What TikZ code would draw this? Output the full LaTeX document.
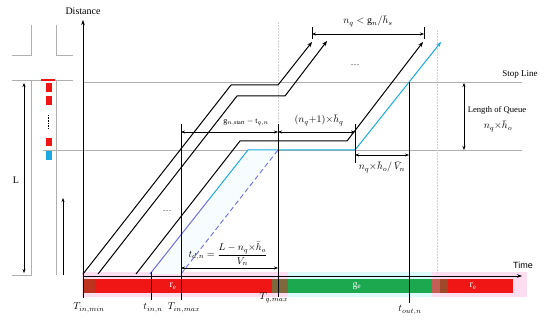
\documentclass[tikz,border=0pt]{standalone}
\usepackage{fontspec}
\setmainfont{Liberation Serif}
\setsansfont{Liberation Sans}
\usetikzlibrary{arrows.meta}
\definecolor{cRed}{RGB}{240,22,22}
\definecolor{cDRed}{RGB}{190,50,32}
\definecolor{cOlive}{RGB}{125,105,60}
\definecolor{cGreen}{RGB}{28,168,78}
\definecolor{cSalm}{RGB}{195,95,85}
\definecolor{cBrown}{RGB}{160,72,42}
\definecolor{cPink}{RGB}{253,222,240}
\definecolor{cCyanBg}{RGB}{220,250,250}
\definecolor{cBlue}{RGB}{28,170,225}
\definecolor{cViolet}{RGB}{110,110,230}
\definecolor{cRoad}{RGB}{175,175,175}
\begin{document}
\begin{tikzpicture}[x=1pt,y=-1pt,
  road/.style={draw=cRoad,line width=0.8pt},
  refl/.style={draw=cRoad,line width=0.9pt},
  faint/.style={draw=gray!35,line width=0.5pt,densely dotted},
  traj/.style={line width=1pt,black},
  tip/.style={-{Stealth[length=5pt,width=4pt]}},
  dimarr/.style={{Stealth[length=4pt,width=3pt]}-{Stealth[length=4pt,width=3pt]},line width=0.5pt},
  tickl/.style={line width=0.6pt},
  lbl/.style={inner sep=0.5pt,font=\fontsize{9}{10}\selectfont},
  mlbl/.style={inner sep=0.5pt,font=\fontsize{10}{11}\selectfont},
  bartxt/.style={inner sep=0pt,text=white,font=\fontsize{10}{11}\selectfont},
  dots/.style={inner sep=0pt,font=\fontsize{6}{6}\selectfont}]
\useasboundingbox (0,0) rectangle (550,321);

% ---------- signal bar ----------
\fill[cPink] (82,272) rectangle (527,297);
\fill[cCyanBg] (288,272) rectangle (432,297);
\fill[cDRed] (83,279) rectangle (95,293);
\fill[cRed] (95,279) rectangle (272,293);
\fill[cOlive] (272,279) rectangle (288,293);
\fill[cGreen] (288,279) rectangle (432,293);
\fill[cSalm] (432,279) rectangle (440,293);
\fill[cBrown] (440,279) rectangle (448,293);
\fill[cRed] (448,279) rectangle (513,293);
\node[bartxt] (re1) at (173,286) {$\mathrm{r_e}$};
\node[bartxt] (ge) at (357,286) {$\mathrm{g_e}$};
\node[bartxt] (re2) at (473,286) {$\mathrm{r_e}$};

% ---------- road sketch ----------
\draw[road] (12,55) -- (31,55) -- (31,25);
\draw[road] (73,55) -- (56,55) -- (56,25);
\draw[road] (12,80) -- (73,80);
\draw[road] (31,80) -- (31,275) -- (12,275);
\draw[road] (56,80) -- (56,275);
\fill[cRed] (41,79) rectangle (55,81.5);
\fill[cRed] (46,83) rectangle (52,92);
\fill[cRed] (46,96) rectangle (52,105);
\draw[densely dotted,line width=0.6pt] (48.5,115) -- (48.5,128);
\fill[cRed] (46,138) rectangle (52,146);
\fill[cBlue] (46,151) rectangle (52,160);
\coordinate (Ltop) at (24,83);
\coordinate (Lbot) at (24,273);
\draw[{Stealth[length=4pt,width=3pt]}-{Stealth[length=4pt,width=3pt]},line width=0.5pt] (Ltop) -- (Lbot);
\node[lbl,font=\fontsize{10}{11}\selectfont] (Llab) at (16,180) {L};
\coordinate (upA) at (63,275);
\coordinate (upB) at (63,198);
\draw[-{Stealth[length=4pt,width=3pt]},line width=0.5pt] (upA) -- (upB);

% ---------- reference lines ----------
\draw[refl] (83,82.5) -- (522,82.5);
\draw[refl] (43,150) -- (522,150);
\draw[faint] (278,22) -- (278,150);
\draw[faint] (437,30) -- (437,272);

% ---------- axes ----------
\coordinate (O) at (83,276);
\coordinate (Ytop) at (83,20);
\coordinate (Xend) at (522,276);
\draw[-{Stealth[length=5pt,width=3.5pt]},line width=0.6pt] (83,298) -- (Ytop);
\draw[-{Stealth[length=5pt,width=3.5pt]},line width=0.6pt] (O) -- (Xend);
\node[lbl,font=\fontsize{10}{11}\selectfont] (dist) at (83,11) {Distance};
\node[lbl,font=\sffamily\fontsize{9}{10}\selectfont] (time) at (523,265) {Time};
\node[lbl] (stop) at (520,74) {Stop Line};
\node[lbl,font=\fontsize{8.6}{10}\selectfont] (loq) at (497,110) {Length of Queue};
\node[mlbl] (loqm) at (498,126) {$n_q{\times}\bar{h}_o$};
\coordinate (q1) at (464,83);
\coordinate (q2) at (464,150);
\draw[dimarr] (q1) -- (q2);

% ---------- light band between last trajectories ----------
\fill[cyan!3] (150,274) -- (248,150) -- (278,150) -- (181,274) -- cycle;

% ---------- trajectories ----------
\draw[traj,tip] (83,274) -- (231,85) -- (278,85) -- (312,42);
\draw[traj,tip] (98,274) -- (237,96) -- (285,96) -- (327,41);
\draw[traj,tip] (136,274) -- (240,141) -- (347,141) -- (423,42);
\draw[line width=1pt,cViolet] (150,274) -- (208.5,200);
\draw[line width=1pt,cBlue,tip] (208.5,200) -- (248,150) -- (355,150) -- (441,42);
\draw[line width=0.9pt,cViolet,dashed,dash pattern=on 5pt off 3pt] (181,274) -- (278,150);
\node[dots] (d1) at (167,211) {......};
\node[dots] (d2) at (355,65) {......};

% ---------- vertical markers ----------
\draw[tickl] (151,272) -- (151,300);
\draw[tickl] (181,124) -- (181,300);
\draw[tickl] (278,124) -- (278,297);
\draw[tickl] (355,124) -- (355,163);
\draw[tickl] (409,82.5) -- (409,303);
\draw[tickl] (312,27) -- (312,39);
\draw[tickl] (424,27) -- (424,39);

% ---------- dimensions ----------
\coordinate (t1) at (312,34);
\coordinate (t2) at (424,34);
\draw[dimarr] (t1) -- (t2);
\node[mlbl] (nqlt) at (368,21) {$n_q<\mathrm{g}_n/\bar{h}_s$};
\coordinate (g1) at (181,132);
\coordinate (g2) at (278,132);
\coordinate (g3) at (355,132);
\draw[dimarr] (g1) -- (g2);
\draw[dimarr] (g2) -- (g3);
\node[lbl,font=\fontsize{8}{9}\selectfont] (gstart) at (246,122) {$\mathrm{g}_{n,\mathrm{start}}-\mathrm{t}_{q,n}$};
\node[mlbl] (nq1) at (319,120) {$(n_q{+}1){\times}\bar{h}_q$};
\coordinate (v1) at (355,155);
\coordinate (v2) at (409,155);
\draw[dimarr] (v1) -- (v2);
\node[mlbl] (nqv) at (382,167) {$n_q{\times}\bar{h}_o/\,\bar{V}_n$};
\coordinate (d1a) at (181,268);
\coordinate (d1b) at (278,268);
\draw[dimarr] (d1a) -- (d1b);
\node[mlbl] (tdn) at (228,254) {$t_{d,n}=\displaystyle\frac{L-n_q{\times}\bar{h}_o}{V_n}$};

% ---------- time labels ----------
\node[mlbl] (Tinmin) at (89,308) {$T_{in,min}$};
\node[mlbl] (tinn) at (153,308) {$t_{in,n}$};
\node[mlbl] (Tinmax) at (184,308) {$T_{in,max}$};
\node[mlbl] (Tqmax) at (274,298) {$T_{q,max}$};
\node[mlbl] (tout) at (410,310) {$t_{out,n}$};
\end{tikzpicture}
\end{document}
